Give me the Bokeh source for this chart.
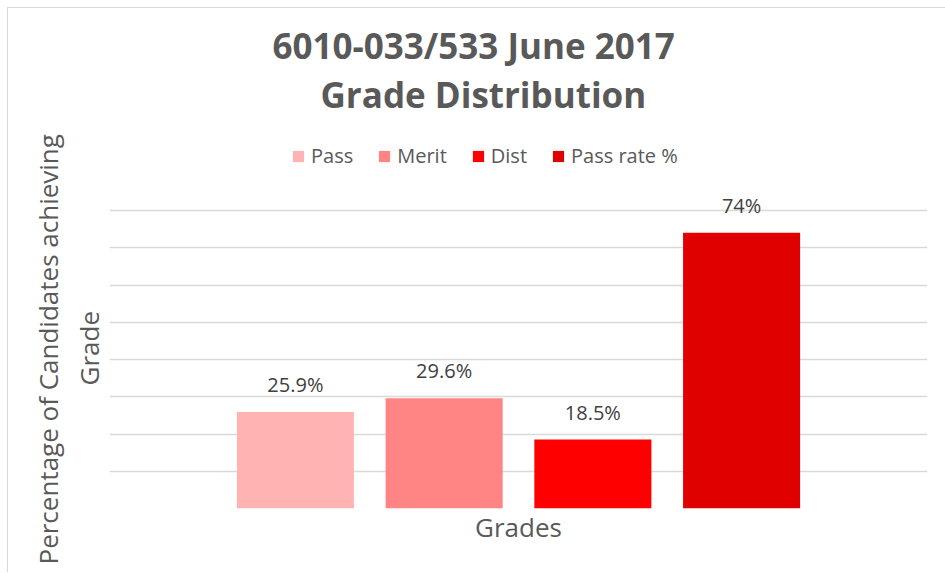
from bokeh.plotting import figure
from bokeh.models import (ColumnDataSource, Range1d, FixedTicker, Legend, LegendItem,
                          LabelSet, Title)
from bokeh.core.properties import value
from bokeh.embed import file_html
from bokeh.resources import INLINE

# ---- data ----
series = ["Pass", "Merit", "Dist", "Pass rate %"]
values = [25.9, 29.6, 18.5, 74]
value_labels = ["25.9%", "29.6%", "18.5%", "74%"]
colors = ["#FFB3B3", "#FF8585", "#FF0000", "#E10000"]
y_ticks = [0, 10, 20, 30, 40, 50, 60, 70, 80]
title_lines = ["6010-033/533 June 2017", "Grade Distribution"]
x_title = "Grades"
y_title_lines = ["Percentage of Candidates achieving", "Grade"]

FONT = "Open Sans"
GREY = "#595959"

PX_PER_UNIT = 298.0 / 80
FRAME_H = 391
Y_TOP = FRAME_H / PX_PER_UNIT   # frame extends above the 80 gridline to hold legend

xs = list(range(len(series)))
src = ColumnDataSource(dict(x=xs, top=values, label=value_labels))

p = figure(frame_width=818, frame_height=FRAME_H,
           min_border_left=101, min_border_right=18, min_border_top=109, min_border_bottom=64,
           x_range=Range1d(-1.25, 4.25), y_range=Range1d(0, Y_TOP),
           output_backend="svg", toolbar_location=None, title=None)
p.styles = {"margin": "7px 0 0 7px", "border-top": "1px solid #d9d9d9",
            "border-left": "1px solid #d9d9d9"}

renderers = []
for i in range(len(series)):
    r = p.vbar(x=[xs[i]], top=[values[i]], width=0.787, bottom=0,
               fill_color=colors[i], line_color=None)
    renderers.append(r)

labels = LabelSet(x="x", y="top", text="label", source=src, y_offset=20,
                  text_align="center", text_baseline="alphabetic",
                  text_font=value(FONT), text_font_size="20px", text_color="#404040")
p.add_layout(labels)

# axes: y axis hidden (only its gridlines show), x axis shows just its title
p.yaxis.ticker = FixedTicker(ticks=y_ticks)
p.ygrid.ticker = FixedTicker(ticks=y_ticks)
p.yaxis.visible = False

p.xaxis.ticker = FixedTicker(ticks=[])
p.xaxis.major_tick_line_color = None
p.xaxis.minor_tick_line_color = None
p.xaxis.axis_line_color = None
p.xaxis.axis_label = x_title
p.xaxis.axis_label_text_font = FONT
p.xaxis.axis_label_text_font_size = "26px"
p.xaxis.axis_label_text_font_style = "normal"
p.xaxis.axis_label_text_color = GREY
p.xaxis.axis_label_standoff = 0

p.xgrid.grid_line_color = None
p.ygrid.grid_line_color = "#D9D9D9"
p.ygrid.grid_line_width = 1.5
p.outline_line_color = None

legend = Legend(items=[LegendItem(label=series[i], renderers=[renderers[i]]) for i in range(len(series))],
                orientation="horizontal", location=(182, 339),
                label_text_font=FONT, label_text_font_size="20px", label_text_color=GREY,
                glyph_width=14, glyph_height=14, label_standoff=6, spacing=24,
                padding=0, margin=0, border_line_color=None, background_fill_alpha=0)
p.add_layout(legend)

# chart title, one Title per line (first added sits nearest the frame)
p.add_layout(Title(text=title_lines[1], align="left", offset=211, text_font=FONT,
                   text_font_size="35px", text_font_style="bold", text_color=GREY,
                   standoff=0), "above")
p.add_layout(Title(text=title_lines[0], align="left", offset=163, text_font=FONT,
                   text_font_size="35px", text_font_style="bold", text_color=GREY,
                   standoff=0), "above")

# y-axis title as two stacked lines on the left
p.add_layout(Title(text=y_title_lines[1], align="left", offset=123, text_font=FONT,
                   text_font_size="26px", text_font_style="normal", text_color=GREY,
                   standoff=6), "left")
p.add_layout(Title(text=y_title_lines[0], align="left", offset=-56, text_font=FONT,
                   text_font_size="26px", text_font_style="normal", text_color=GREY,
                   standoff=0), "left")

open("out.html", "w").write(file_html(p, INLINE))
